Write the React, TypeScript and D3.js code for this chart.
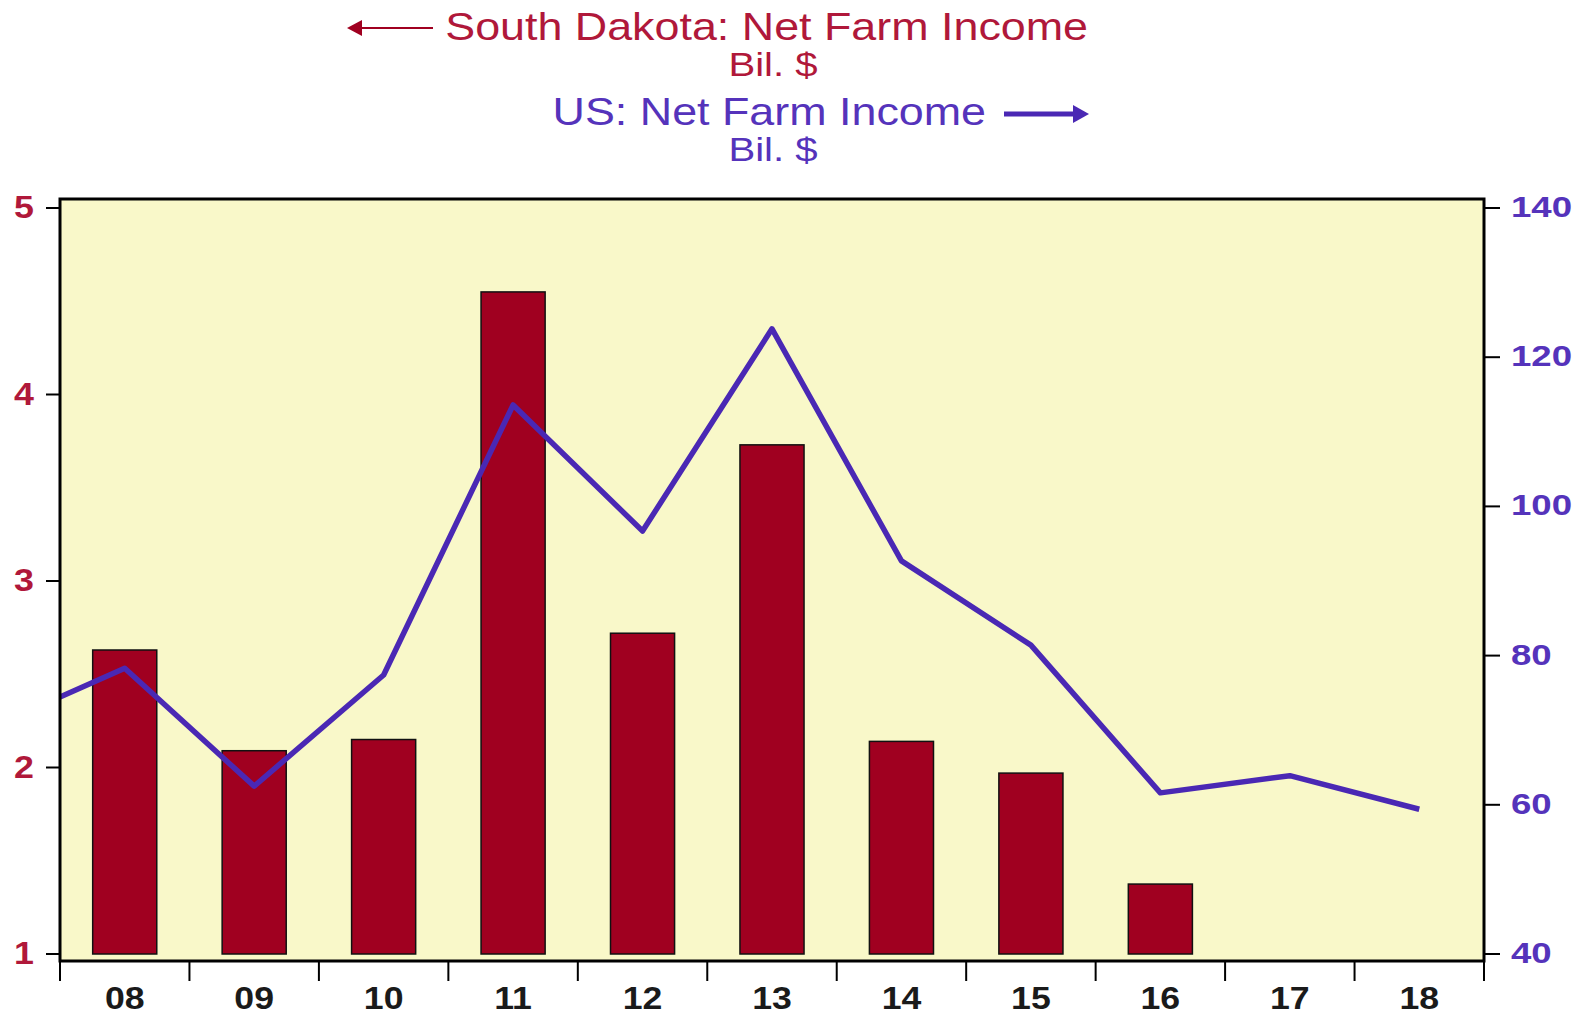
import React from "react";
import * as d3 from "d3";

const years = ["08", "09", "10", "11", "12", "13", "14", "15", "16", "17", "18"];
const sdIncome = [2.63, 2.09, 2.15, 4.55, 2.72, 3.73, 2.14, 1.97, 1.375];
const usYears = [-1, 0, 1, 2, 3, 4, 5, 6, 7, 8, 9, 10]; // index: -1 = 2007
const usIncome = [70.6, 78.3, 62.5, 77.4, 113.6, 96.7, 123.8, 92.7, 81.4, 61.6, 63.9, 59.4];
const leftTicks = [1, 2, 3, 4, 5];
const rightTicks = [40, 60, 80, 100, 120, 140];

const W = 1580, H = 1017;
const PL = 60, PR = 1484, PT = 199, PB = 961;
const RED = "#A00020";
const RED_TXT = "#B0183A";
const BLUE = "#4A28B4";
const BLUE_TXT = "#5533BB";
const BG = "#F9F8C9";
const FONT = "'Liberation Sans', Arial, sans-serif";

function T(props: { x: number; y: number; anchor?: string; size: number; fill: string; weight?: string; sx?: number; children: any }) {
  const sx = props.sx ?? 1.18;
  return (
    <text
      transform={`translate(${props.x},${props.y}) scale(${sx},1)`}
      textAnchor={props.anchor || "start"}
      fontSize={props.size}
      fontFamily={FONT}
      fontWeight={props.weight || "normal"}
      fill={props.fill}
    >
      {props.children}
    </text>
  );
}

export default function App() {
  const x = d3.scaleLinear().domain([-0.5, 10.5]).range([PL, PR]);
  const bw = x(1) - x(0);
  const yL = d3.scaleLinear().domain([1, 5]).range([954, 208]);
  const yR = d3.scaleLinear().domain([40, 140]).range([954, 208]);
  const barW = bw * 0.495;
  const line = d3
    .line<number>()
    .x((_, i) => x(usYears[i]))
    .y((d) => yR(d));
  const bounds = d3.range(0, years.length + 1).map((i) => x(i - 0.5));

  return (
    <svg width={W} height={H} style={{ position: "absolute", left: 0, top: 0 }}>
      <defs>
        <clipPath id="plotclip">
          <rect x={PL} y={PT} width={PR - PL} height={PB - PT} />
        </clipPath>
      </defs>
      <rect x={0} y={0} width={W} height={H} fill="#ffffff" />
      <rect x={PL} y={PT} width={PR - PL} height={PB - PT} fill={BG} />
      {sdIncome.map((v, i) => (
        <rect
          key={i}
          x={x(i) - barW / 2}
          y={yL(v)}
          width={barW}
          height={yL(1) - yL(v)}
          fill={RED}
          stroke="#111"
          strokeWidth={1.5}
        />
      ))}
      <path
        d={line(usIncome) || ""}
        fill="none"
        stroke={BLUE}
        strokeWidth={5.5}
        strokeLinejoin="round"
        clipPath="url(#plotclip)"
      />
      <rect x={PL} y={PT} width={PR - PL} height={PB - PT} fill="none" stroke="#000" strokeWidth={3} />
      {leftTicks.map((t) => (
        <g key={"l" + t}>
          <line x1={46} x2={PL} y1={yL(t)} y2={yL(t)} stroke="#000" strokeWidth={2} />
          <T x={34} y={yL(t) + 10} anchor="end" size={32} sx={1.12} fill={RED_TXT} weight="bold">
            {t}
          </T>
        </g>
      ))}
      {rightTicks.map((t) => (
        <g key={"r" + t}>
          <line x1={PR} x2={1500} y1={yR(t)} y2={yR(t)} stroke="#000" strokeWidth={2} />
          <T x={1511} y={yR(t) + 9} anchor="start" size={30} sx={1.22} fill={BLUE_TXT} weight="bold">
            {t}
          </T>
        </g>
      ))}
      {bounds.map((b, i) => (
        <line key={"b" + i} x1={b} x2={b} y1={PB} y2={981} stroke="#000" strokeWidth={2} />
      ))}
      {years.map((yr, i) => (
        <T key={yr} x={x(i)} y={1009} anchor="middle" size={31} sx={1.15} fill="#1a1a1a" weight="bold">
          {yr}
        </T>
      ))}
      {/* Titles */}
      <line x1={433} x2={360} y1={28} y2={28} stroke={RED} strokeWidth={2} />
      <path d="M347,28 L362,20 L362,36 Z" fill={RED} />
      <T x={1088} y={40} anchor="end" size={38} fill={RED_TXT}>
        South Dakota: Net Farm Income
      </T>
      <T x={773} y={76} anchor="middle" size={34} fill={RED_TXT}>
        Bil. $
      </T>
      <T x={986} y={125} anchor="end" size={38} fill={BLUE_TXT}>
        US: Net Farm Income
      </T>
      <line x1={1004} x2={1076} y1={114} y2={114} stroke={BLUE} strokeWidth={5} />
      <path d="M1089,114 L1073,105 L1073,123 Z" fill={BLUE} />
      <T x={773} y={161} anchor="middle" size={34} fill={BLUE_TXT}>
        Bil. $
      </T>
    </svg>
  );
}
